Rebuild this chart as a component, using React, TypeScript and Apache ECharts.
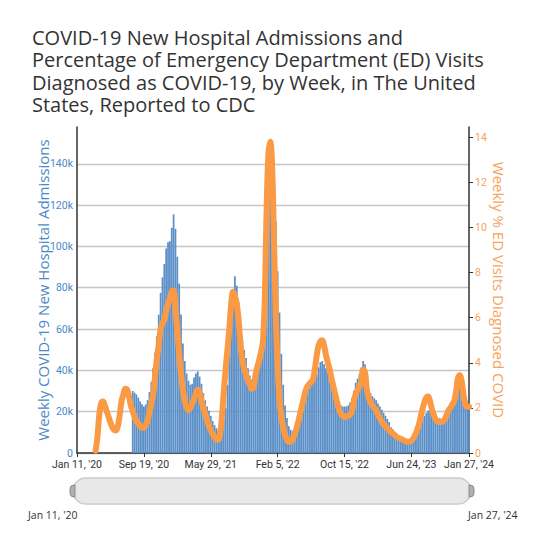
import React, { useEffect, useRef } from 'react';
import * as echarts from 'echarts';

// x axis: week index 0 = week of Jan 11, 2020 ... 211 = week of Jan 27, 2024
const xTickWeeks = [0, 36, 72, 108, 144, 180, 211];
const xTickLabels = ["Jan 11, '20", "Sep 19, '20", "May 29, '21", "Feb 5, '22", "Oct 15, '22", "Jun 24, '23", "Jan 27, '24"];
const lastWeek = 211;

// Weekly COVID-19 new hospital admissions, starting at week index 30
const admissionsStartWeek = 30;
const admissions = [
  30000, 29200, 28300, 26800, 25000, 23600, 22500, 23500, 25600, 29500,
  34500, 41000, 48500, 56500, 67000, 77500, 85000, 91500, 99000, 102000,
  102500, 109000, 115500, 108500, 95000, 82000, 67000, 53000, 44500, 38500,
  35000, 33000, 33500, 36500, 38500, 39500, 37000, 33500, 29000, 25500,
  22500, 20500, 18000, 15500, 13500, 12000, 11000, 11000, 12500, 16000,
  22000, 33000, 47000, 65000, 79000, 85500, 81000, 73000, 62000, 55000,
  50000, 46000, 41000, 37500, 35500, 35000, 39000, 44000, 48000, 52000,
  60000, 74000, 98000, 122000, 143000, 150500, 136000, 112000, 88000, 68000,
  48000, 33000, 23000, 17000, 13000, 11200, 10500, 11000, 12500, 14500,
  17500, 21000, 24000, 27000, 30000, 31000, 32500, 34000, 35500, 38000,
  41500, 44000, 44500, 43000, 41000, 39000, 35500, 33000, 30500, 27500,
  25000, 23500, 23000, 22500, 22500, 22500, 23000, 24500, 26500, 30000,
  34000, 36000, 38000, 41000, 44500, 43000, 35000, 30000, 29000, 27500,
  26500, 25500, 24000, 22500, 21000, 19500, 18000, 16500, 15000, 12500,
  11500, 10000, 9000, 8300, 7700, 7200, 6600, 6300, 6200, 6500,
  7200, 8500, 10500, 12500, 14500, 15800, 17000, 18000, 19500, 20500,
  21000, 19500, 18500, 17500, 17000, 16800, 16700, 16800, 17500, 19000,
  21000, 22500, 24000, 26000, 28500, 31000, 33500, 34500, 32000, 28000,
  25000, 23000,
];

// Weekly % of ED visits diagnosed COVID, starting at week index 10
const edStartWeek = 10;
const edPercent = [
  0.1, 0.7, 1.7, 2.2, 2.28, 2.1, 1.85, 1.6, 1.35, 1.15,
  1.02, 1.0, 1.2, 1.7, 2.3, 2.6, 2.85, 2.8, 2.5, 2.1,
  1.85, 1.6, 1.42, 1.3, 1.18, 1.12, 1.12, 1.25, 1.42, 1.8,
  2.2, 2.6, 3.4, 4.2, 4.8, 5.5, 5.75, 5.9, 6.3, 6.6,
  6.85, 7.15, 7.2, 6.4, 5.4, 4.4, 3.5, 2.8, 2.3, 2.0,
  1.9, 2.0, 2.2, 2.4, 2.65, 2.8, 2.7, 2.35, 2.0, 1.75,
  1.45, 1.2, 1.0, 0.85, 0.72, 0.6, 0.58, 0.8, 1.6, 2.7,
  3.7, 4.6, 5.5, 6.6, 7.15, 6.95, 6.6, 5.9, 4.8, 4.1,
  3.75, 3.45, 3.2, 3.05, 2.85, 2.9, 3.4, 3.8, 4.1, 4.45,
  4.9, 6.6, 10.5, 13.2, 13.8, 12.8, 9.5, 6.2, 3.8, 2.4,
  1.6, 1.15, 0.8, 0.6, 0.5, 0.5, 0.6, 0.8, 1.05, 1.35,
  1.7, 2.05, 2.4, 2.75, 2.95, 3.05, 3.15, 3.25, 3.7, 4.3,
  4.75, 4.95, 5.0, 4.75, 4.35, 4.0, 3.7, 3.3, 2.95, 2.6,
  2.25, 1.95, 1.75, 1.65, 1.6, 1.62, 1.65, 1.7, 1.85, 2.3,
  2.6, 2.8, 2.95, 3.2, 3.7, 3.6, 2.8, 2.45, 2.25, 2.1,
  2.0, 1.9, 1.7, 1.55, 1.4, 1.28, 1.2, 1.1, 1.0, 0.92,
  0.87, 0.8, 0.72, 0.67, 0.64, 0.6, 0.56, 0.52, 0.5, 0.5,
  0.55, 0.65, 0.8, 1.0, 1.25, 1.6, 1.95, 2.25, 2.45, 2.5,
  2.3, 1.95, 1.7, 1.5, 1.4, 1.37, 1.37, 1.4, 1.5, 1.7,
  1.9, 2.0, 2.15, 2.3, 2.7, 3.3, 3.45, 3.2, 2.6, 2.2,
  2.05, 2.05,
];

const leftMax = 157800;
const leftInterval = 20000;
const rightMax = 14.45;
const rightTicks = [0, 2, 4, 6, 8, 10, 12, 14];

const TITLE = 'COVID-19 New Hospital Admissions and\nPercentage of Emergency Department (ED) Visits\nDiagnosed as COVID-19, by Week, in The United\nStates, Reported to CDC';

const BLUE = '#5b8fc7';
const BLUE_TEXT = '#4a89c8';
const ORANGE = '#fb9a45';
const ORANGE_TEXT = '#f7a35c';

const rangeLabelStyle = {
  fontFamily: 'Open Sans',
  fontSize: 10.5,
  fontWeight: 'normal',
  color: '#333333',
};

export default function App() {
  const ref = useRef<HTMLDivElement>(null);

  useEffect(() => {
    if (!ref.current) return;
    const chart = echarts.init(ref.current, null, { renderer: 'svg' });
    const barData = admissions.map((v, k) => [admissionsStartWeek + k, v]);
    const lineData = edPercent.map((v, k) => [edStartWeek + k, v]);

    chart.setOption({
      animation: false,
      backgroundColor: '#ffffff',
      title: [
        {
          text: TITLE,
          left: 32,
          top: 26,
          padding: 0,
          textStyle: {
            fontFamily: 'Open Sans',
            fontSize: 20,
            fontWeight: 'normal',
            color: '#333333',
            lineHeight: 22.5,
          },
        },
        {
          text: xTickLabels[0],
          left: 28,
          top: 509,
          padding: 0,
          textStyle: rangeLabelStyle,
        },
        {
          text: xTickLabels[xTickLabels.length - 1],
          left: 468,
          top: 509,
          padding: 0,
          textStyle: rangeLabelStyle,
        },
      ],
      grid: { left: 77, right: 71, top: 127, bottom: 80 },
      xAxis: {
        type: 'value',
        min: 0,
        max: lastWeek,
        interval: 36,
        axisLine: { show: true, onZero: false, lineStyle: { color: '#333333', width: 1.5 } },
        axisTick: { show: true, length: 4, lineStyle: { color: '#333333' } },
        splitLine: { show: false },
        axisLabel: {
          color: '#333333',
          fontSize: 10.5,
          fontFamily: 'Roboto',
          margin: 6,
          formatter: (v: number) => {
            const idx = xTickWeeks.indexOf(Math.round(v));
            return idx >= 0 ? xTickLabels[idx] : '';
          },
        },
      },
      yAxis: [
        {
          type: 'value',
          position: 'left',
          min: 0,
          max: leftMax,
          interval: leftInterval,
          name: 'Weekly COVID-19 New Hospital Admissions',
          nameLocation: 'middle',
          nameGap: 27,
          nameMoveOverlap: false,
          nameTextStyle: { color: BLUE_TEXT, fontSize: 15, fontFamily: 'Open Sans' },
          axisLine: { show: true, lineStyle: { color: '#333333', width: 1.5 } },
          axisTick: { show: false },
          axisLabel: {
            color: BLUE_TEXT,
            fontSize: 10.5,
            fontFamily: 'Roboto',
            margin: 4,
            showMaxLabel: false,
            formatter: (v: number) => (v % leftInterval !== 0 ? '' : v === 0 ? '0' : `${v / 1000}k`),
          },
          splitLine: { show: true, showMaxLine: false, lineStyle: { color: '#c6c6c6', width: 1.3 } },
        },
        {
          type: 'value',
          position: 'right',
          min: 0,
          max: rightMax,
          interval: 2,
          name: 'Weekly % ED Visits Diagnosed COVID',
          nameLocation: 'middle',
          nameRotate: -90,
          nameGap: 22,
          nameMoveOverlap: false,
          nameTextStyle: { color: ORANGE_TEXT, fontSize: 15, fontFamily: 'Open Sans' },
          axisLine: { show: true, lineStyle: { color: '#333333', width: 1.5 } },
          axisTick: { show: true, length: 4, customValues: rightTicks, lineStyle: { color: '#333333' } },
          axisLabel: {
            color: ORANGE_TEXT,
            fontSize: 10.5,
            fontFamily: 'Roboto',
            margin: 6,
            showMaxLabel: false,
            formatter: (v: number) => (Number.isInteger(v) ? String(v) : ''),
          },
          splitLine: { show: false },
        },
      ],
      series: [
        {
          type: 'bar',
          yAxisIndex: 0,
          data: barData,
          barWidth: 1.75,
          itemStyle: { color: BLUE },
          z: 2,
        },
        {
          type: 'line',
          yAxisIndex: 1,
          data: lineData,
          smooth: 0.4,
          symbol: 'none',
          lineStyle: { width: 6, color: ORANGE, cap: 'round', join: 'round' },
          z: 3,
        },
      ],
      graphic: [
        {
          type: 'rect',
          shape: { x: 73, y: 478, width: 398, height: 26, r: 13 },
          style: { fill: '#e8e8e8', stroke: '#cccccc', lineWidth: 1.5 },
          z: 10,
        },
        {
          type: 'rect',
          shape: { x: 70, y: 485, width: 5, height: 12, r: [4, 0, 0, 4] },
          style: { fill: '#b0b0b0', stroke: '#8c8c8c', lineWidth: 1 },
          z: 11,
        },
        {
          type: 'rect',
          shape: { x: 469, y: 485, width: 5, height: 12, r: [0, 4, 4, 0] },
          style: { fill: '#b0b0b0', stroke: '#8c8c8c', lineWidth: 1 },
          z: 11,
        },
      ],
    });

    return () => chart.dispose();
  }, []);

  return (
    <div
      ref={ref}
      style={{ position: 'fixed', left: 0, top: 0, width: 540, height: 533, background: '#fff' }}
    />
  );
}
